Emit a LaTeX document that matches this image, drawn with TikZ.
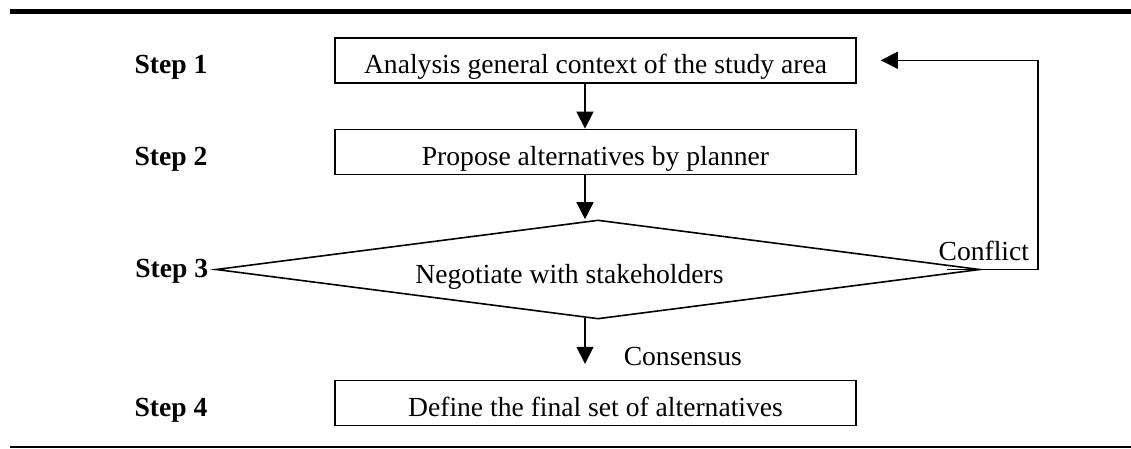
\documentclass[tikz,border=0pt]{standalone}
\usepackage{fontspec}
\setmainfont{Liberation Serif}
\usetikzlibrary{shapes.geometric,arrows.meta}
\tikzstyle{stepbox} = [draw, line width=0.8pt, anchor=north, minimum width=260.5pt,
  inner sep=0pt, text height=18pt, text depth=4.5pt, font=\fontsize{13.8}{16}\selectfont]
\tikzstyle{decision} = [draw, diamond, line width=0.8pt, anchor=north,
  minimum width=382pt, minimum height=49.5pt, inner sep=0pt]
\tikzstyle{steplabel} = [anchor=base west, inner sep=0pt,
  font=\fontsize{13.8}{16}\selectfont\bfseries]
\tikzstyle{texto} = [inner sep=0pt, font=\fontsize{13.8}{16}\selectfont]
\tikzstyle{line} = [draw, line width=0.75pt, -{Triangle[width=8.5pt,length=8.5pt]}]
\tikzstyle{wire} = [draw, line width=0.75pt]
\newcommand{\flowbox}[2]{node (#1) [stepbox] {#2}}

\begin{document}
\begin{tikzpicture}[x=0.5pt,y=0.5pt]
  \useasboundingbox (0,0) rectangle (1131,-449);

  % rules above and below
  \draw[line width=2.5pt] (10,-11.5) -- (1131,-11.5);
  \draw[line width=0.75pt] (10,-447) -- (1131,-447);

  % flow area
  \path (595.5,-37) \flowbox {ANALYSE}{Analysis general context of the study area};
  \path (ANALYSE.south)+(0,-45) \flowbox {PROPOSE}{Propose alternatives by planner};
  \path (PROPOSE.south)+(2.5,-44) node (NEGOTIATE) [decision,
    label={[texto, anchor=base, xshift=-14.25pt, yshift=-3.75pt]center:Negotiate with stakeholders}] {};
  \path (NEGOTIATE.south)+(-2.5,-60) \flowbox {DEFINE}{Define the final set of alternatives};

  % step labels
  \path (ANALYSE.base west)+(-200,0) node (STEP1) [steplabel] {Step 1};
  \path (PROPOSE.base west)+(-200,0) node (STEP2) [steplabel] {Step 2};
  \path (NEGOTIATE.center)+(-463,-8.5) node (STEP3) [steplabel] {Step 3};
  \path (DEFINE.base west)+(-200,0) node (STEP4) [steplabel] {Step 4};

  % Draw arrows between elements
  \path [line] ([xshift=-5.25pt]ANALYSE.south) -- ([xshift=-5.25pt]PROPOSE.north);
  \path [line] ([xshift=-5.25pt]PROPOSE.south) -- ([xshift=-5.25pt]PROPOSE.south |- NEGOTIATE.north);
  \path [line, shorten >=8pt] ([xshift=-6.5pt,yshift=0.8pt]NEGOTIATE.south)
    -- ([xshift=-5.25pt]DEFINE.north)
    node [texto, anchor=base west, xshift=19pt, yshift=7pt] {Consensus};
  \path [line, shorten >=12pt] ([xshift=-17pt]NEGOTIATE.east) -- ++(91,0)
    node [texto, anchor=south east, inner sep=4pt] {Conflict} |- (ANALYSE.east);
  \path [wire, shorten <=3pt] (STEP3.east) -- (NEGOTIATE.west);

\end{tikzpicture}
\end{document}
